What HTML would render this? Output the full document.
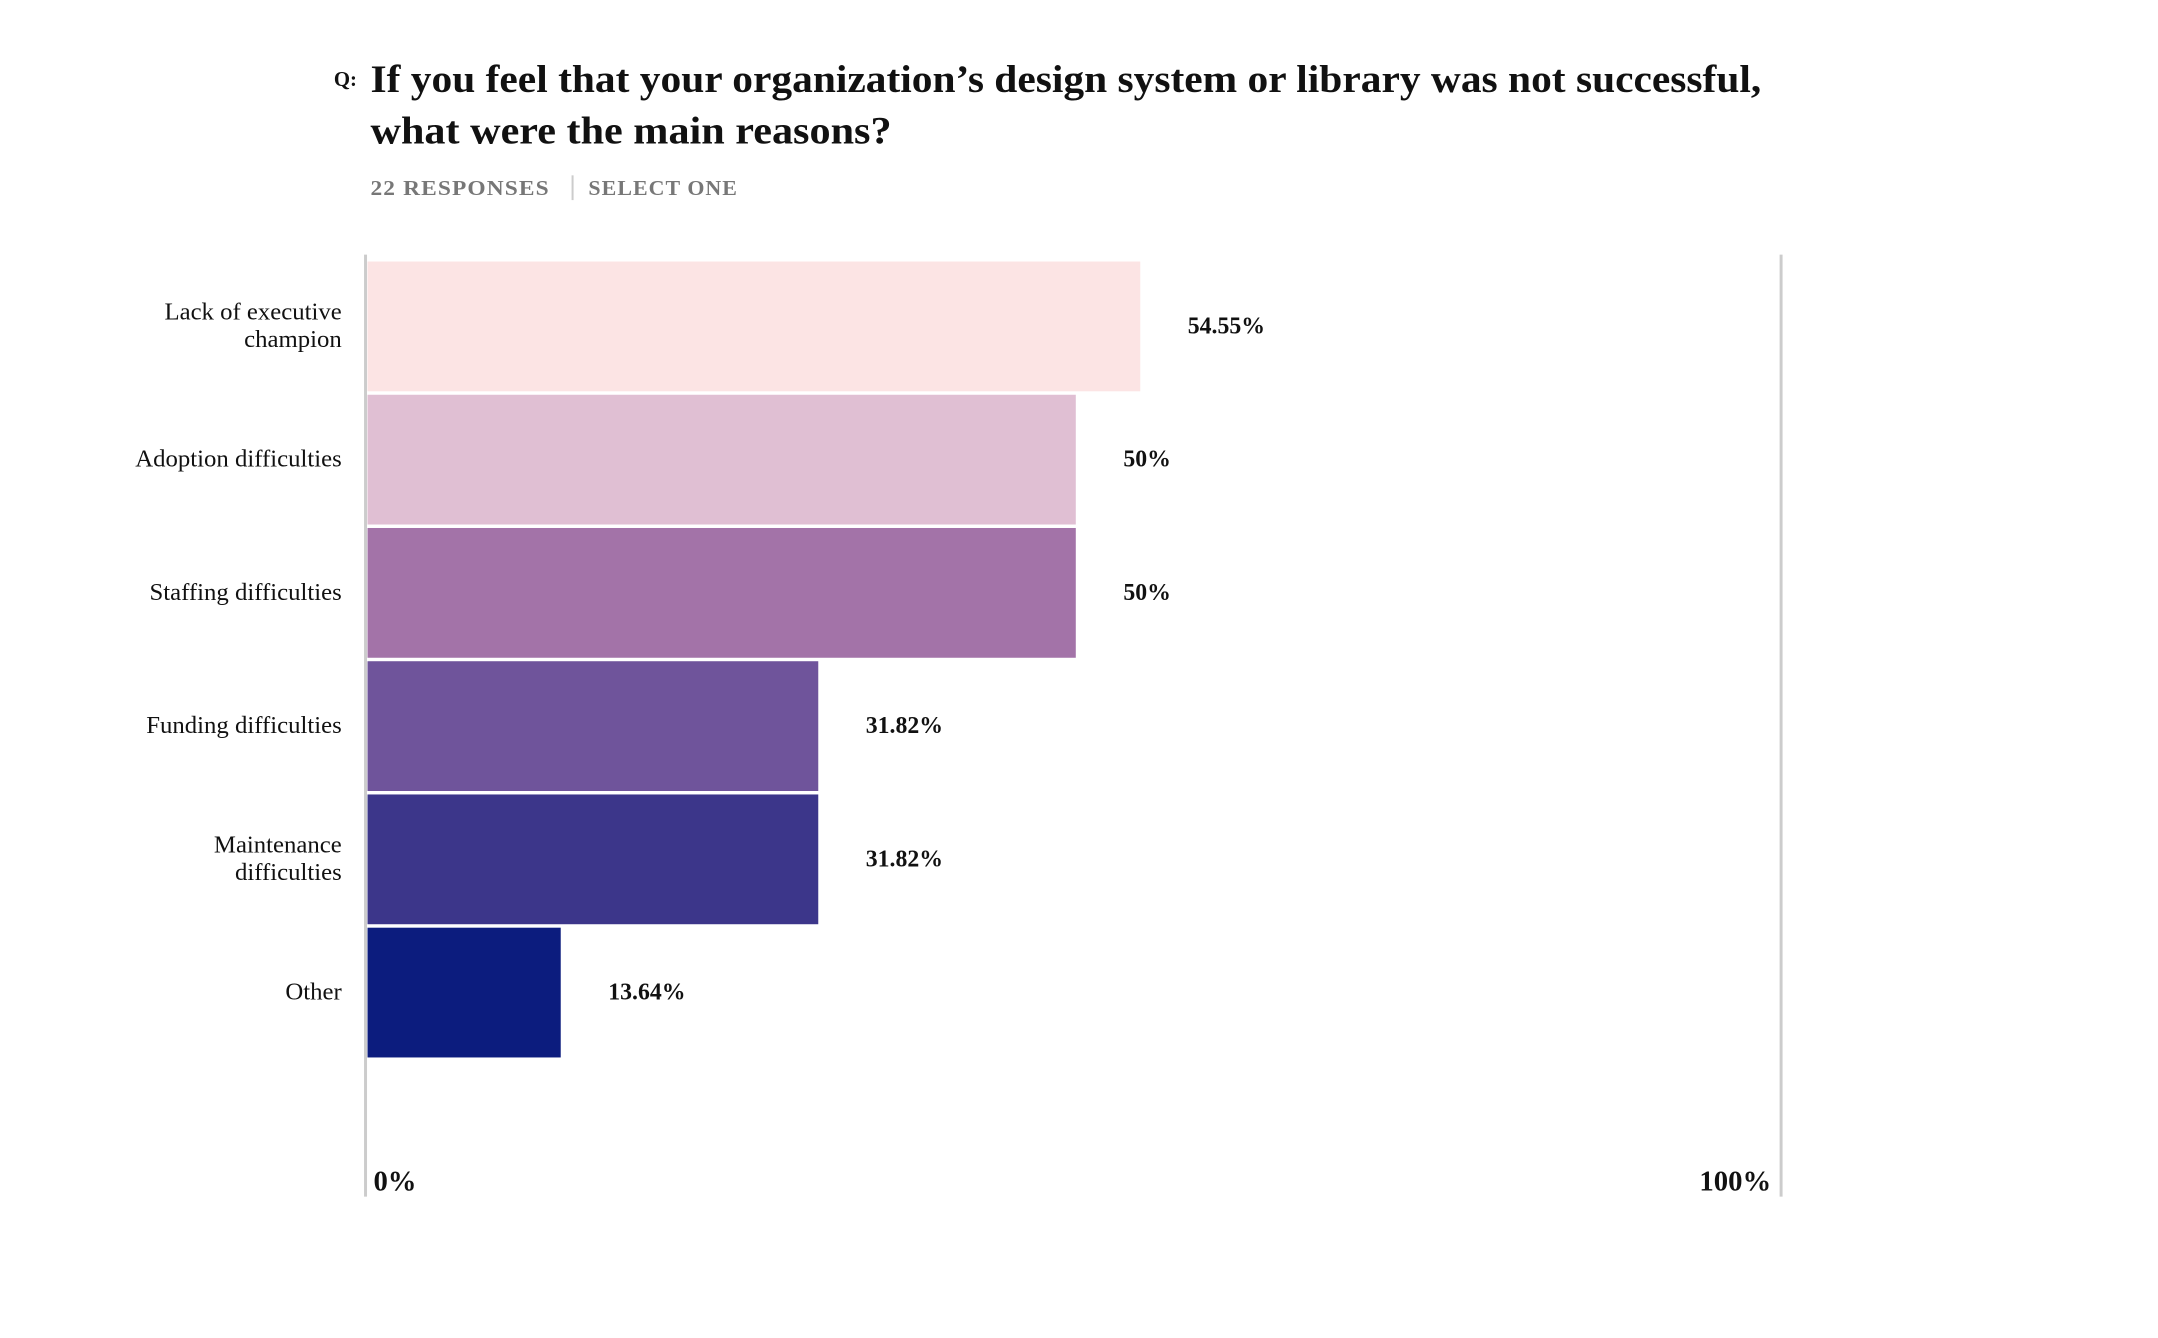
<!DOCTYPE html>
<html><head><meta charset="utf-8"><style>
html,body{margin:0;padding:0;background:#fff;}
svg{display:block;font-family:"Liberation Serif",serif;}
</style></head><body>
<svg id="chart" width="2158" height="1338" viewBox="0 0 2158 1338" xmlns="http://www.w3.org/2000/svg">
<g transform="scale(0.9906)">
<text x="337" y="87" font-size="21" font-weight="bold" fill="#111">Q:</text>
<text x="374" y="93" font-size="39" font-weight="bold" fill="#111" textLength="1404" lengthAdjust="spacingAndGlyphs">If you feel that your organization’s design system or library was not successful,</text>
<text x="374" y="145" font-size="39" font-weight="bold" fill="#111" textLength="526" lengthAdjust="spacingAndGlyphs">what were the main reasons?</text>
<text x="374" y="197" font-size="21" font-weight="bold" fill="#777" textLength="181" lengthAdjust="spacingAndGlyphs" letter-spacing="1">22 RESPONSES</text>
<line x1="578" y1="177" x2="578" y2="202" stroke="#ccc" stroke-width="2"/>
<text x="594" y="197" font-size="21" font-weight="bold" fill="#777" textLength="151" lengthAdjust="spacingAndGlyphs" letter-spacing="1">SELECT ONE</text>
<line x1="369" y1="257" x2="369" y2="1208" stroke="#ccc" stroke-width="3"/>
<line x1="1798" y1="257" x2="1798" y2="1208" stroke="#ccc" stroke-width="3"/>
<g id="bars"></g>
<text x="377" y="1202" font-size="29" font-weight="bold" fill="#111">0%</text>
<text x="1788" y="1202" font-size="29" font-weight="bold" fill="#111" text-anchor="end">100%</text>
</g>
</svg>
<script>
const categories = [["Lack of executive","champion"],["Adoption difficulties"],["Staffing difficulties"],["Funding difficulties"],["Maintenance","difficulties"],["Other"]];
const values = [54.55, 50, 50, 31.82, 31.82, 13.64];
const valueLabels = ["54.55%","50%","50%","31.82%","31.82%","13.64%"];
const colors = ["#fce4e4","#e0bfd3","#a373a8","#6f549b","#3c368a","#0c1c7e"];
const x0 = 371, xW = 1430, y0 = 264, pitch = 134.5, bh = 131;
const xs = v => x0 + v / 100 * xW;
const ys = i => y0 + i * pitch;
const NS = "http://www.w3.org/2000/svg";
const g = document.getElementById("bars");
values.forEach((v, i) => {
  const r = document.createElementNS(NS, "rect");
  
  
  r.setAttribute("x", x0); r.setAttribute("y", ys(i));
  r.setAttribute("width", xs(v) - x0); r.setAttribute("height", bh);
  r.setAttribute("fill", colors[i]);
  g.appendChild(r);
  const t = document.createElementNS(NS, "text");
  
  
  t.setAttribute("x", xs(v) + 48); t.setAttribute("y", ys(i) + bh / 2 + 7);
  t.setAttribute("font-size", "24"); t.setAttribute("font-weight", "bold"); t.setAttribute("fill", "#111");
  t.textContent = valueLabels[i];
  g.appendChild(t);
  const lines = categories[i];
  const c = document.createElementNS(NS, "text");
  
  
  c.setAttribute("text-anchor", "end"); c.setAttribute("font-size", "25"); c.setAttribute("fill", "#111");
  const cy = ys(i) + bh / 2 + 7 - (lines.length - 1) * 14;
  lines.forEach((ln, j) => {
    const s = document.createElementNS(NS, "tspan");
    s.setAttribute("x", 345); s.setAttribute("y", cy + j * 28);
    s.textContent = ln;
    c.appendChild(s);
  });
  g.appendChild(c);
});
</script>
</body></html>
